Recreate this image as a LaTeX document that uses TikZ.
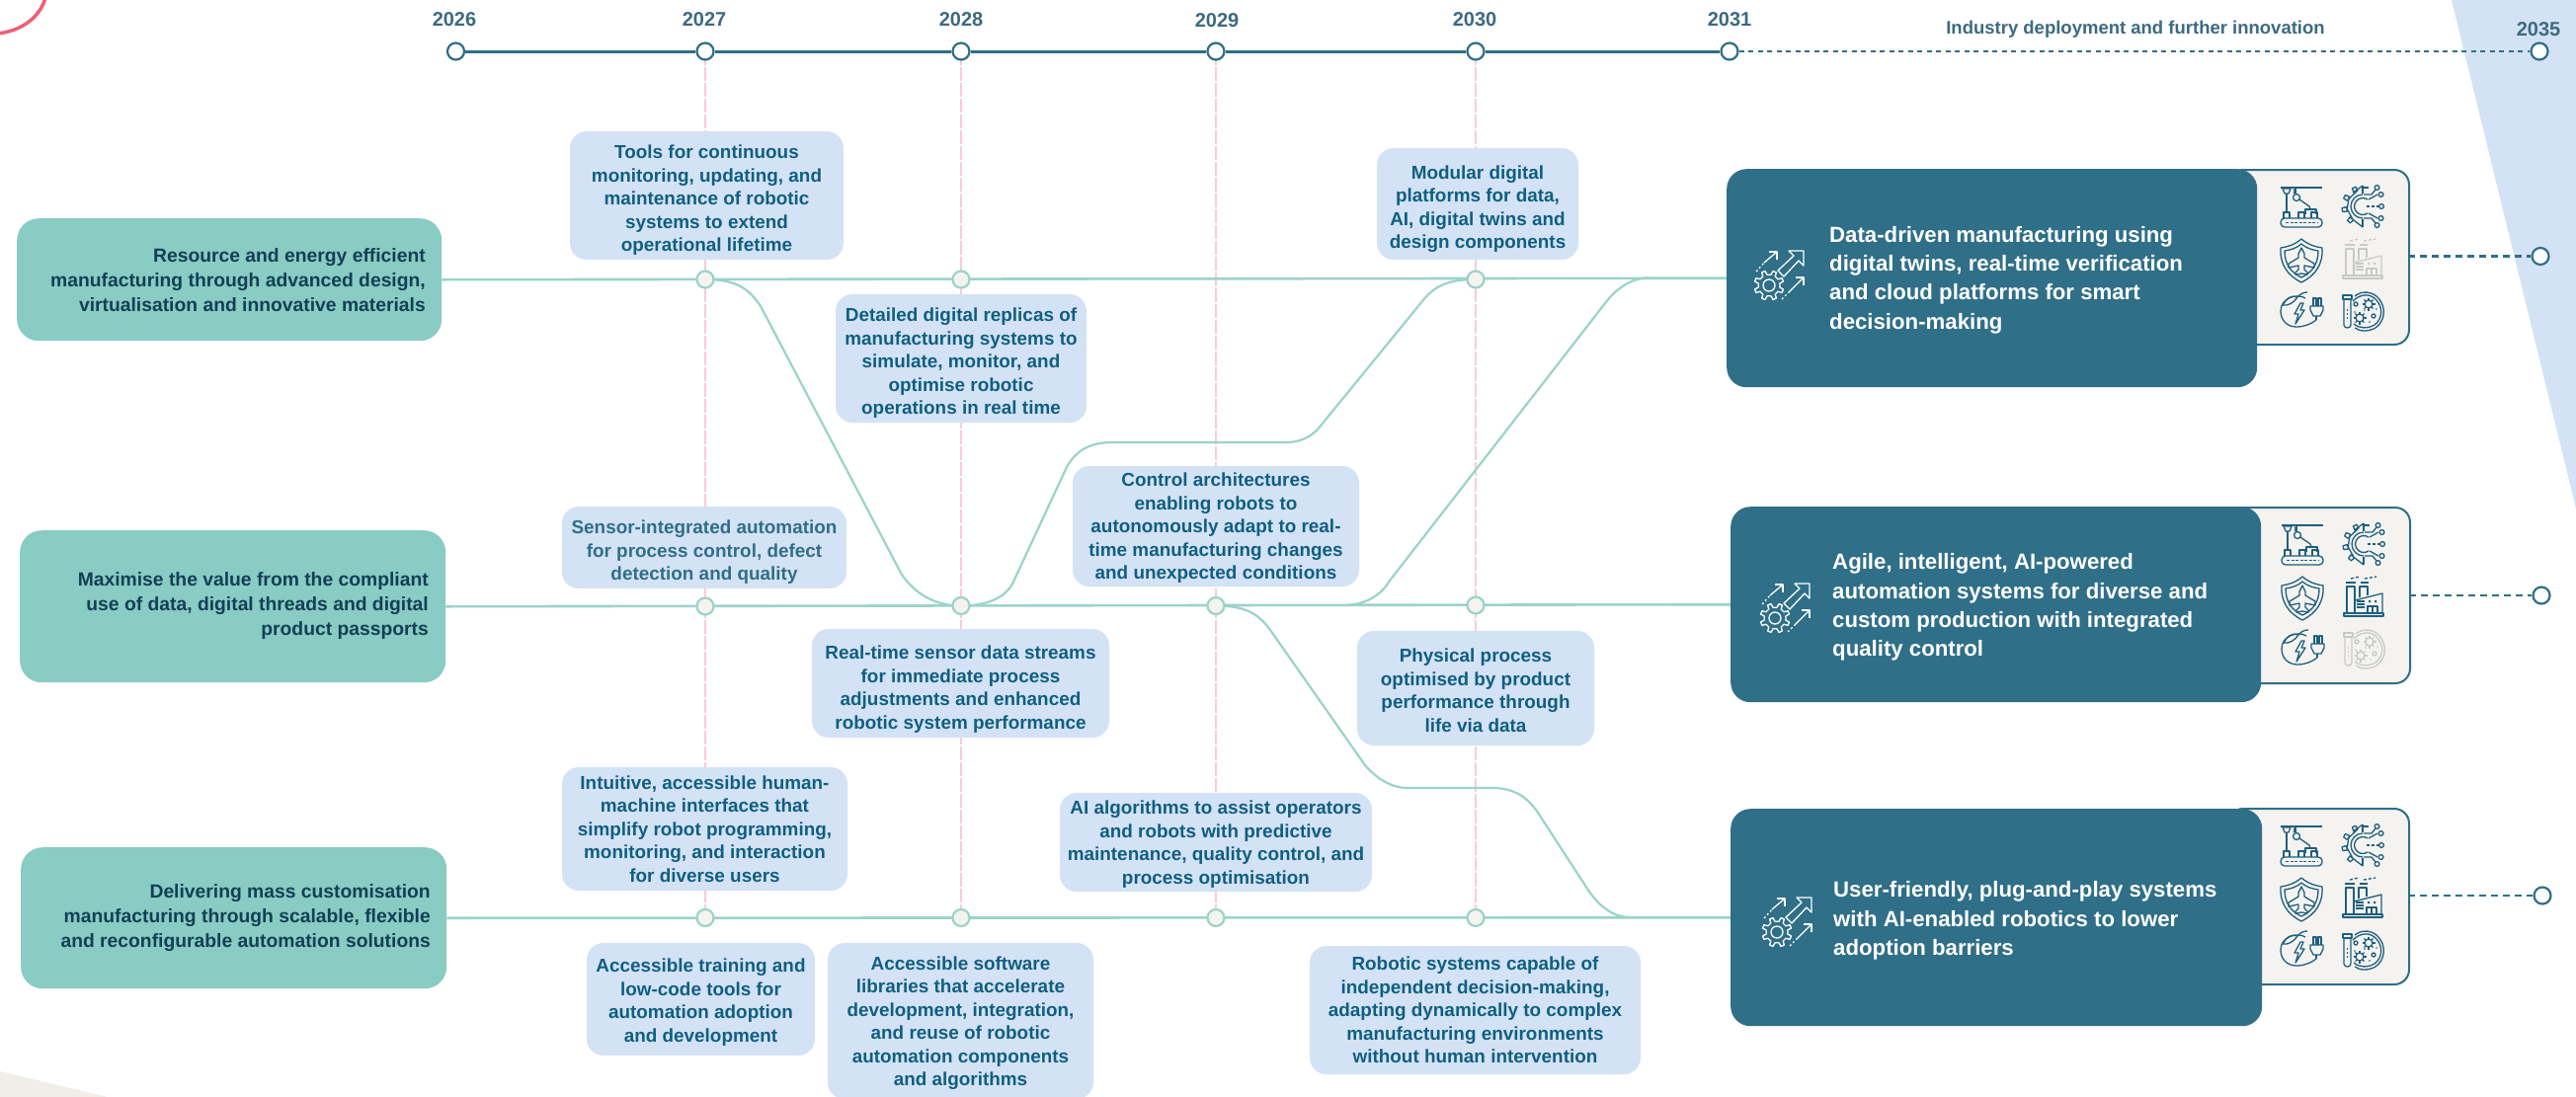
\documentclass[tikz,border=0pt]{standalone}
\usepackage{fontspec}
\setmainfont{Liberation Sans}
\pgfdeclarelayer{bgl}
\pgfdeclarelayer{lines}
\pgfsetlayers{bgl,lines,main}
\definecolor{cGreen}{HTML}{88CCC3}
\definecolor{cLine}{HTML}{9BD3C9}
\definecolor{cBlue}{HTML}{D4E2F5}
\definecolor{cDark}{HTML}{2F6F87}
\definecolor{cCall}{HTML}{0F5F80}
\definecolor{cCallL}{HTML}{2F6F87}
\definecolor{cNavy}{HTML}{123F55}
\definecolor{cYear}{HTML}{3D6A80}
\definecolor{cPink}{HTML}{FBCBD5}
\definecolor{cRed}{HTML}{EE5F76}
\definecolor{cBeige}{HTML}{F1EEE8}
\definecolor{cPanel}{HTML}{F4F3F0}
\definecolor{cIcon}{HTML}{1F5F7E}
\definecolor{cGrey}{HTML}{C9C9C6}
\colorlet{ic}{cIcon}
\tikzset{
  greenbox/.style={rectangle,rounded corners=22pt,fill=cGreen,inner sep=0pt,anchor=north west},
  greentext/.style={anchor=east,align=right,text=cNavy,inner sep=0pt,font=\fontsize{19.3}{25}\selectfont\bfseries},
  calloutbox/.style={rectangle,rounded corners=17pt,fill=cBlue,inner sep=0pt,anchor=center},
  callouttext/.style={inner sep=0pt,align=center,anchor=center,font=\fontsize{18.9}{23.5}\selectfont\bfseries},
  darkbox/.style={rectangle,rounded corners=20pt,fill=cDark,inner sep=0pt,anchor=north west},
  darktext/.style={anchor=west,align=left,text=white,inner sep=0pt,font=\fontsize{22.2}{29.4}\selectfont\bfseries},
  panelbox/.style={rectangle,rounded corners=15pt,fill=cPanel,draw=cDark,line width=2pt,inner sep=0pt,anchor=north west},
  yearlabel/.style={text=cYear,inner sep=0pt,font=\fontsize{20}{24}\selectfont\bfseries},
  bandlabel/.style={text=cYear,inner sep=0pt,font=\fontsize{18.5}{24}\selectfont\bfseries},
  tlnode/.style={circle,minimum size=17pt,inner sep=0pt,fill=white,draw=cDark,line width=2.2pt},
  jnode/.style={circle,minimum size=17pt,inner sep=0pt,fill=cPanel,draw=cLine,line width=2.2pt},
  greenline/.style={draw=cLine,line width=2.6pt},
  pinkline/.style={draw=cPink,line width=1.4pt,dash pattern=on 14pt off 2pt},
  darkdash/.style={draw=cDark,line width=2pt,dash pattern=on 5pt off 4.5pt},
  paneldash/.style={draw=cDark,line width=2.2pt,dash pattern=on 7pt off 5pt},
  iconline/.style={draw=ic,line width=1.3pt,line join=round},
  whiteline/.style={draw=white,line width=1.3pt,line join=round},
  robicon/.pic={
    \draw[iconline] (-21,-19)--(21,-19);
    \draw[iconline] (-19,-18)--(-11,-18)--(-13,-13)--(-17,-13)--cycle;
    \draw[iconline] (-15,-13)--(-15,6);
    \draw[iconline] (-8,-17) .. controls (-6,-15) .. (-8,-13);
    \draw[iconline] (-6,-19)--(-6,-13);
    \draw[iconline] (-5,-9) circle[radius=3.5];
    \draw[iconline] (-2,-7)--(8,0)--(9,3);
    \draw[iconline] (4,8)--(4,3)--(15,3)--(15,8);
    \draw[iconline] (-18,12)--(-18,6)--(-12,6)--(-12,12);
    \draw[iconline] (-3,12)--(-3,6)--(3,6)--(3,12);
    \draw[iconline] (10,12)--(10,6)--(16,6)--(16,12);
    \draw[iconline,rounded corners=4pt] (-21,12) rectangle (21,21);
    \draw[iconline,dash pattern=on 3pt off 1.5pt] (-16,16.5)--(16,16.5);
  },
  gearicon/.pic={
    \draw[iconline] (0,-21) \foreach \a in {115,152,190,228} {-- ({-\a-8}:17) -- ({-\a-5}:21) -- ({-\a+5}:21) -- ({-\a+8}:17)} -- (0,21);
    \draw[iconline] (0,-21)--(0,-13);
    \draw[iconline] (0,21)--(0,13);
    \draw[iconline] (0,-12) arc[start angle=-90,end angle=-270,radius=12];
    \draw[iconline] (5,-7) arc[start angle=-55,end angle=-305,radius=8.5];
    \draw[iconline] (1,-12)--(9,-12)--(13,-17);
    \draw[iconline] (1,-19)--(6,-19);
    \draw[iconline] (6,-7)--(15,-12);
    \draw[iconline,dash pattern=on 3pt off 2pt] (4,0)--(16,0);
    \draw[iconline] (6,7)--(15,12);
    \draw[iconline] (1,12)--(9,12)--(13,17);
    \foreach \p in {(14.5,-19),(18.5,-12),(19,0),(18.5,12),(14.5,19)} {\draw[iconline] \p circle[radius=2.4];}
  },
  shieldicon/.pic={
    \draw[iconline] (0,-22) .. controls (-7,-16) and (-14,-14) .. (-21,-13) .. controls (-22,4) and (-14,15) .. (0,22) .. controls (14,15) and (22,4) .. (21,-13) .. controls (14,-14) and (7,-16) .. cycle;
    \draw[iconline] (0,-17) .. controls (-6,-12) and (-11,-11) .. (-17,-10) .. controls (-17,3) and (-11,12) .. (0,17) .. controls (11,12) and (17,3) .. (17,-10) .. controls (11,-11) and (6,-12) .. cycle;
    \draw[iconline] (0,-13)--(3,-7)--(3,-3)--(13,3)--(13,7)--(3,5)--(3,9)--(6,12)--(6,14)--(0,13)--(-6,14)--(-6,12)--(-3,9)--(-3,5)--(-13,7)--(-13,3)--(-3,-3)--(-3,-7)--cycle;
  },
  factoryicon/.pic={
    \draw[iconline] (-20,17) rectangle (20,20);
    \draw[iconline] (-17,17)--(-17,-10)--(-9,-10)--(-9,17);
    \draw[iconline] (-4,1)--(-4,-10)--(4,-10)--(4,-1);
    \draw[iconline] (-18,-14)--(-8,-14);
    \draw[iconline] (-3,-14)--(5,-14);
    \draw[iconline] (-9,4)--(19,-3)--(19,17);
    \draw[iconline,dash pattern=on 3pt off 2pt] (-13,-18)--(-4,-20);
    \draw[iconline,dash pattern=on 3pt off 2pt] (1,-18)--(13,-20);
    \draw[iconline] (-7,5)--(1,5);
    \draw[iconline] (-7,8)--(1,8);
    \draw[iconline] (-7,11)--(1,11);
    \draw[iconline] (4,17)--(4,10)--(14,10)--(14,17);
    \draw[iconline] (9,10)--(9,17);
    \fill[ic] (6,5) circle[radius=1.5];
    \fill[ic] (12,5) circle[radius=1.5];
  },
  plugicon/.pic={
    \draw[iconline] (4,-13) .. controls (-4,-18) and (-21,-14) .. (-21,0) .. controls (-21,10) and (-14,16) .. (-5,16) .. controls (3,16) and (10,13) .. (15,9);
    \draw[iconline] (-19,-6) .. controls (-14,-5) and (-8,-8) .. (-4,-14) .. controls (-1,-18) and (3,-19) .. (6,-19);
    \draw[iconline] (-19,-6) .. controls (-16,-12) and (-10,-17) .. (-4,-14);
    \draw[iconline] (-1,-8)--(-7,3)--(-3,3)--(-6,13)--(3,-1)--(-1,-1)--(2,-8)--cycle;
    \draw[iconline] (12,-5)--(12,-13)--(15,-13)--(15,-5);
    \draw[iconline] (17,-5)--(17,-13)--(20,-13)--(20,-5);
    \draw[iconline] (9,-5)--(22,-5)--(22,-1)--(19,5)--(12,5)--(9,-1)--cycle;
    \draw[iconline] (15,5)--(15,9);
  },
  dishicon/.pic={
    \draw[iconline] (-8,-15) .. controls (-1,-21) and (10,-20) .. (16,-13) .. controls (24,-4) and (23,10) .. (13,17) .. controls (6,21) and (-3,21) .. (-8,17);
    \draw[iconline] (-10,-10) .. controls (-2,-18) and (8,-18) .. (14,-11) .. controls (21,-3) and (20,8) .. (12,14) .. controls (5,18) and (-3,18) .. (-9,13);
    \draw[iconline] (-20,-16) rectangle (-11,-12);
    \draw[iconline] (-19,-12)--(-19,14) .. controls (-19,18) and (-12,18) .. (-12,14) -- (-12,-12);
    \draw[iconline,dash pattern=on 2pt off 2pt] (-15.5,-2)--(-15.5,10);
    \draw[iconline] (6,-7) circle[radius=4];
    \draw[iconline] (-3,7) circle[radius=4];
    \foreach \a in {0,45,...,315} {\draw[iconline,line width=1.1pt] ([shift={(6,-7)}]\a:4)--([shift={(6,-7)}]\a:6.5); \draw[iconline,line width=1.1pt] ([shift={(-3,7)}]\a:4)--([shift={(-3,7)}]\a:6.5);}
    \draw[iconline] (-7,-7) circle[radius=2];
    \draw[iconline] (11,5) circle[radius=2];
    \fill[ic] (-8,1) circle[radius=.8] (2,-1) circle[radius=.8] (7,11) circle[radius=.8] (14,-2) circle[radius=.8];
  },
  growthicon/.pic={
    \draw[whiteline] (11,0) \foreach \a in {22.5,67.5,...,337.5} {-- ({\a-12}:11) -- ({\a-7}:15) -- ({\a+7}:15) -- ({\a+12}:11)} -- cycle;
    \draw[whiteline] (0,0) circle[radius=6];
    \draw[whiteline] (9,-15)--(25,-30)--(20,-35)--(35,-35)--(35,-20)--(30,-25)--(15,-9)--cycle;
    \draw[whiteline,dash pattern=on 2pt off 2.5pt] (-13,-14)--(-5,-23);
    \draw[whiteline] (-5,-23)--(8,-34);
    \draw[whiteline] (0,-34)--(8,-34)--(8,-26);
    \draw[whiteline,dash pattern=on 2pt off 2.5pt] (13,14)--(20,7);
    \draw[whiteline] (20,7)--(35,-8);
    \draw[whiteline] (27,-8)--(35,-8)--(35,0);
  }
}
\newcommand{\rectnode}[6]{%
  \pgfmathsetmacro\rw{#5-#3}\pgfmathsetmacro\rh{#6-#4}%
  \node[#1,minimum width=\rw pt,minimum height=\rh pt] (#2) at (#3,#4) {};}
% [colour]{name}{x1}{y1}{x2}{y2}{text shift down}{text}
\newcommand{\calloutnode}[8][cCall]{%
  \pgfmathsetmacro\rw{#5-#3}\pgfmathsetmacro\rh{#6-#4}%
  \pgfmathsetmacro\rx{(#5+#3)/2}\pgfmathsetmacro\ry{(#6+#4)/2}%
  \pgfmathsetmacro\rt{\ry+#7}%
  \node[calloutbox,minimum width=\rw pt,minimum height=\rh pt] (#2) at (\rx,\ry) {};
  \node[callouttext,text=#1] (#2t) at (\rx,\rt) {#8};}
\newcommand{\iconset}[4]{%
  \pic at ({#1-108},{#2+38}) {robicon};
  \pic at ({#1-46},{#2+38}) {gearicon};
  \pic at ({#1-108},{#2+93}) {shieldicon};
  \colorlet{ic}{#3}\pic at ({#1-46},{#2+91}) {factoryicon};\colorlet{ic}{cIcon}
  \pic at ({#1-108},{#2+144}) {plugicon};
  \colorlet{ic}{#4}\pic at ({#1-46},{#2+144}) {dishicon};\colorlet{ic}{cIcon}
}
\begin{document}
\begin{tikzpicture}[x=1pt,y=-1pt]
\useasboundingbox (0,0) rectangle (2608,1111);
\begin{pgfonlayer}{bgl}
  \fill[white] (0,0) rectangle (2608,1111);
  \fill[cBlue] (2482,0)--(2608,515)--(2608,0)--cycle;
  \fill[cBeige] (0,1085)--(109,1111)--(0,1111)--cycle;
  \draw[cRed,line width=3.5pt] (46,-2) .. controls (40,18) and (22,31) .. (-2,34);
\end{pgfonlayer}

% timeline
\node[tlnode] (t26) at (461.5,52) {};
\node[tlnode] (t27) at (714,52) {};
\node[tlnode] (t28) at (973,52) {};
\node[tlnode] (t29) at (1231,52) {};
\node[tlnode] (t30) at (1494,52) {};
\node[tlnode] (t31) at (1751,52) {};
\node[tlnode] (t35) at (2571,52) {};
\node[yearlabel] (l26) at (460,20) {2026};
\node[yearlabel] (l27) at (713,20) {2027};
\node[yearlabel] (l28) at (973,20) {2028};
\node[yearlabel] (l29) at (1232,21) {2029};
\node[yearlabel] (l30) at (1493,20) {2030};
\node[yearlabel] (l31) at (1751,20) {2031};
\node[yearlabel] (l35) at (2570,30) {2035};
\node[bandlabel] (lind) at (2162,30) {Industry deployment and further innovation};

% junctions
\node[jnode] (a27) at (714,283) {};
\node[jnode] (a28) at (973,283) {};
\node[jnode] (a30) at (1494,283) {};
\node[jnode] (b27) at (714,614) {};
\node[jnode] (b28) at (973,613.5) {};
\node[jnode] (b29) at (1231,613.5) {};
\node[jnode] (b30) at (1494,613) {};
\node[jnode] (c27) at (714,929.5) {};
\node[jnode] (c28) at (973,929.5) {};
\node[jnode] (c29) at (1231,929.5) {};
\node[jnode] (c30) at (1494,929.5) {};

% green boxes
\rectnode{greenbox}{gA}{17}{221}{447}{345}
\rectnode{greenbox}{gB}{20}{537}{451}{691}
\rectnode{greenbox}{gC}{21}{858}{452}{1001}
\node[greentext] (gAt) at (431,284) {Resource and energy efficient\\manufacturing through advanced design,\\virtualisation and innovative materials};
\node[greentext] (gBt) at (434,614) {Maximise the value from the compliant\\use of data, digital threads and digital\\product passports};
\node[greentext] (gCt) at (436,930) {Delivering mass customisation\\manufacturing through scalable, flexible\\and reconfigurable automation solutions};

% callouts
\calloutnode{c1}{577}{133}{854}{263}{5}{Tools for continuous\\monitoring, updating, and\\maintenance of robotic\\systems to extend\\operational lifetime}
\calloutnode{c2}{846}{298}{1100}{428}{5}{Detailed digital replicas of\\manufacturing systems to\\simulate, monitor, and\\optimise robotic\\operations in real time}
\calloutnode{c3}{1394}{150}{1598}{263}{5}{Modular digital\\platforms for data,\\AI, digital twins and\\design components}
\calloutnode[cCallL]{c4}{569}{513}{857}{596}{5}{Sensor-integrated automation\\for process control, defect\\detection and quality}
\calloutnode{c5}{1086}{472}{1376}{594}{2}{Control architectures\\enabling robots to\\autonomously adapt to real-\\time manufacturing changes\\and unexpected conditions}
\calloutnode{c6}{822}{637}{1123}{747}{6}{Real-time sensor data streams\\for immediate process\\adjustments and enhanced\\robotic system performance}
\calloutnode{c7}{1374}{639}{1614}{755}{2}{Physical process\\optimised by product\\performance through\\life via data}
\calloutnode{c8}{569}{777}{858}{902}{0}{Intuitive, accessible human-\\machine interfaces that\\simplify robot programming,\\monitoring, and interaction\\for diverse users}
\calloutnode{c9}{1073}{803}{1389}{903}{2}{AI algorithms to assist operators\\and robots with predictive\\maintenance, quality control, and\\process optimisation}
\calloutnode{c10}{594}{955}{825}{1069}{3}{Accessible training and\\low-code tools for\\automation adoption\\and development}
\calloutnode{c11}{838}{955}{1107}{1113}{2}{Accessible software\\libraries that accelerate\\development, integration,\\and reuse of robotic\\automation components\\and algorithms}
\calloutnode{c12}{1326}{958}{1661}{1088}{0}{Robotic systems capable of\\independent decision-making,\\adapting dynamically to complex\\manufacturing environments\\without human intervention}

% outcome panels and boxes
\rectnode{panelbox}{pA}{2255}{171}{2438}{348}
\rectnode{panelbox}{pB}{2255}{513}{2439}{691}
\rectnode{panelbox}{pC}{2255}{818}{2438}{996}
\rectnode{darkbox}{dA}{1748}{171}{2285}{392}
\rectnode{darkbox}{dB}{1752}{513}{2289}{711}
\rectnode{darkbox}{dC}{1752}{819}{2290}{1039}
\node[darktext] (dAt) at (1852,283.5) {Data-driven manufacturing using\\digital twins, real-time verification\\and cloud platforms for smart\\decision-making};
\node[darktext] (dBt) at (1855,615) {Agile, intelligent, AI-powered\\automation systems for diverse and\\custom production with integrated\\quality control};
\node[darktext] (dCt) at (1856,932.5) {User-friendly, plug-and-play systems\\with AI-enabled robotics to lower\\adoption barriers};
\pic at (1791,289) {growthicon};
\pic at (1797,626) {growthicon};
\pic at (1799,944) {growthicon};
\iconset{2438}{171}{cGrey}{cIcon}
\iconset{2439}{513}{cIcon}{cGrey}
\iconset{2438}{818}{cIcon}{cIcon}
\node[tlnode] (eA) at (2572,259.5) {};
\node[tlnode] (eB) at (2573,603) {};
\node[tlnode] (eC) at (2574,907) {};
\coordinate (pAe) at (2438,259.5);
\coordinate (pBe) at (2439,603);
\coordinate (pCe) at (2438,907);
\coordinate (m1) at (1363,613);
\coordinate (m2) at (1669,281.5);
\coordinate (m3) at (1650,929);

\begin{pgfonlayer}{lines}
  \draw[cDark,line width=3pt] (t26)--(t27)--(t28)--(t29)--(t30)--(t31);
  \draw[darkdash] (t31)--(t35);
  \foreach \i/\j in {27/27,28/28,29/29,30/30} {\draw[pinkline] (t\i.center)--(c\j.center);}
  \draw[greenline] (gA.east)--(dA.west);
  \draw[greenline] (gB.east)--(dB.west);
  \draw[greenline] (gC.east)--(dC.west);
  \draw[greenline,line width=2.2pt] (a27.center) .. controls (745,283) and (758,292) .. (770,310) -- (913,582) .. controls (930,606) and (952,613.5) .. (b28.center);
  \draw[greenline,line width=2.2pt] (b28.center) .. controls (1000,613.5) and (1020,605) .. (1027,587) -- (1080,473) .. controls (1090,455) and (1105,448) .. (1126,448) -- (1302,448) .. controls (1318,448) and (1330,441) .. (1338,430) -- (1440,305) .. controls (1452,290) and (1465,283) .. (a30.center);
  \draw[greenline,line width=2.2pt] (m1) .. controls (1380,612) and (1397,605) .. (1407,588) -- (1629,302) .. controls (1640,290) and (1653,281.5) .. (m2);
  \draw[greenline,line width=2.2pt] (b29.center) .. controls (1255,613.5) and (1272,618) .. (1286,638) -- (1382,775) .. controls (1395,790) and (1410,798) .. (1425,798) -- (1511,798) .. controls (1530,798) and (1545,805) .. (1557,823) -- (1607,900) .. controls (1620,920) and (1635,929) .. (m3);
  \draw[paneldash] (pAe)--(eA);
  \draw[paneldash] (pBe)--(eB);
  \draw[paneldash] (pCe)--(eC);
\end{pgfonlayer}
\end{tikzpicture}
\end{document}
